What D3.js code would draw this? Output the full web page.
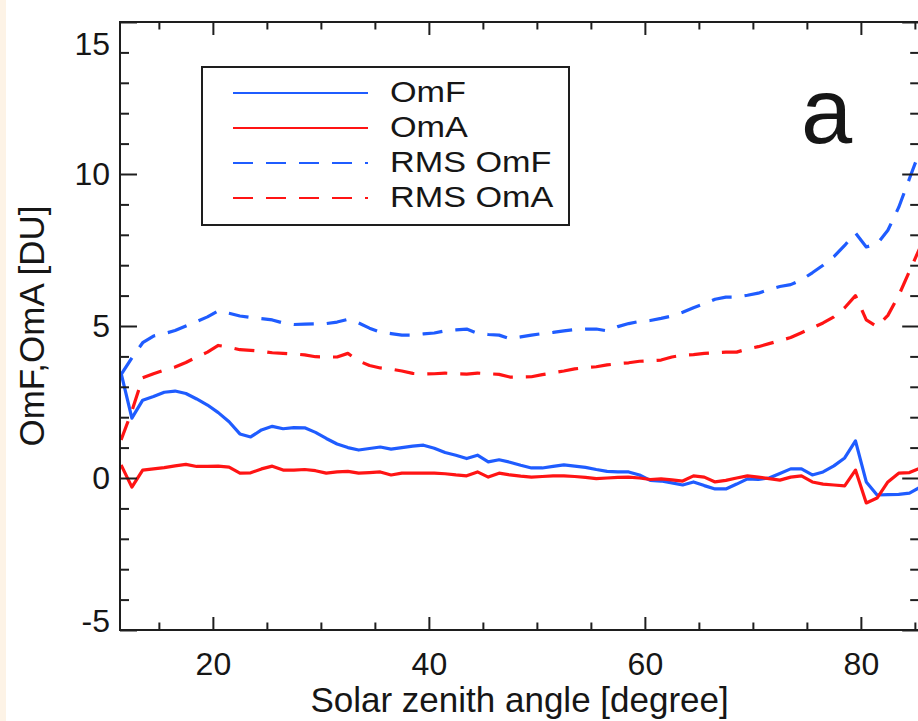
<!DOCTYPE html>
<html>
<head>
<meta charset="utf-8">
<script src="https://cdn.jsdelivr.net/npm/d3@7/dist/d3.min.js"></script>
<style>
  html, body { margin: 0; padding: 0; background: #ffffff; }
  svg { display: block; }
  text { font-family: "Liberation Sans", Arial, Helvetica, sans-serif; fill: #161616; }
</style>
</head>
<body>
<svg id="chart" width="918" height="721"></svg>
<script>
// Solar zenith angle grid [degree]
const sza = [
  11.5, 12.5, 13.5, 14.5, 15.5, 16.5, 17.5, 18.5, 19.5, 20.5,
  21.5, 22.5, 23.5, 24.5, 25.5, 26.5, 27.5, 28.5, 29.5, 30.5,
  31.5, 32.5, 33.5, 34.5, 35.5, 36.5, 37.5, 38.5, 39.5, 40.5,
  41.5, 42.5, 43.5, 44.5, 45.5, 46.5, 47.5, 48.5, 49.5, 50.5,
  51.5, 52.5, 53.5, 54.5, 55.5, 56.5, 57.5, 58.5, 59.5, 60.5,
  61.5, 62.5, 63.5, 64.5, 65.5, 66.5, 67.5, 68.5, 69.5, 70.5,
  71.5, 72.5, 73.5, 74.5, 75.5, 76.5, 77.5, 78.5, 79.5, 80.5,
  81.5, 82.5, 83.5, 84.5, 85.5
];

// Mean observation minus forecast [DU]
const omf = [
  3.45, 1.97, 2.56, 2.68, 2.82, 2.86, 2.78, 2.60, 2.40, 2.15,
  1.85, 1.45, 1.35, 1.58, 1.70, 1.62, 1.66, 1.65, 1.50, 1.30,
  1.12, 1.00, 0.92, 0.97, 1.02, 0.95, 1.00, 1.05, 1.08, 0.98,
  0.84, 0.75, 0.64, 0.75, 0.53, 0.60, 0.52, 0.42, 0.33, 0.33,
  0.38, 0.43, 0.39, 0.35, 0.28, 0.22, 0.20, 0.20, 0.10, -0.08,
  -0.10, -0.16, -0.23, -0.13, -0.25, -0.36, -0.36, -0.20, -0.03, -0.05,
  0.00, 0.15, 0.30, 0.30, 0.10, 0.20, 0.40, 0.66, 1.22, -0.13,
  -0.56, -0.55, -0.54, -0.50, -0.30
];

// Mean observation minus analysis [DU]
const oma = [
  0.43, -0.30, 0.26, 0.30, 0.34, 0.40, 0.45, 0.38, 0.38, 0.39,
  0.36, 0.16, 0.17, 0.30, 0.39, 0.26, 0.26, 0.28, 0.24, 0.16,
  0.20, 0.22, 0.16, 0.18, 0.20, 0.10, 0.16, 0.16, 0.16, 0.16,
  0.14, 0.10, 0.07, 0.20, 0.03, 0.16, 0.10, 0.06, 0.03, 0.05,
  0.07, 0.07, 0.05, 0.02, -0.02, 0.00, 0.02, 0.03, 0.00, -0.05,
  -0.03, -0.06, -0.10, 0.07, 0.03, -0.13, -0.08, 0.00, 0.07, 0.03,
  -0.02, -0.07, 0.03, 0.07, -0.13, -0.20, -0.23, -0.26, 0.26, -0.82,
  -0.66, -0.13, 0.16, 0.18, 0.33
];

// RMS of observation minus forecast [DU]
const rmsOmf = [
  3.40, 3.95, 4.45, 4.67, 4.75, 4.85, 5.00, 5.15, 5.30, 5.50,
  5.42, 5.33, 5.28, 5.24, 5.20, 5.10, 5.05, 5.06, 5.07, 5.08,
  5.13, 5.22, 5.10, 4.93, 4.80, 4.75, 4.70, 4.70, 4.74, 4.77,
  4.84, 4.87, 4.90, 4.76, 4.72, 4.70, 4.58, 4.64, 4.70, 4.75,
  4.79, 4.84, 4.88, 4.90, 4.90, 4.84, 4.98, 5.08, 5.15, 5.18,
  5.25, 5.33, 5.45, 5.60, 5.73, 5.88, 5.95, 5.95, 6.01, 6.08,
  6.20, 6.30, 6.36, 6.52, 6.75, 7.00, 7.28, 7.65, 8.06, 7.60,
  7.70, 8.15, 8.90, 9.85, 10.80
];

// RMS of observation minus analysis [DU]
const rmsOma = [
  1.25, 2.20, 3.30, 3.43, 3.55, 3.65, 3.80, 3.98, 4.14, 4.36,
  4.30, 4.22, 4.20, 4.17, 4.12, 4.10, 4.08, 4.05, 3.99, 3.98,
  3.98, 4.10, 3.85, 3.70, 3.62, 3.58, 3.52, 3.44, 3.42, 3.43,
  3.45, 3.43, 3.42, 3.45, 3.43, 3.41, 3.32, 3.32, 3.33, 3.40,
  3.46, 3.52, 3.59, 3.63, 3.66, 3.72, 3.76, 3.79, 3.84, 3.86,
  3.88, 3.98, 4.04, 4.06, 4.10, 4.12, 4.14, 4.14, 4.25, 4.32,
  4.42, 4.52, 4.62, 4.78, 4.94, 5.10, 5.30, 5.60, 6.00, 5.20,
  4.98, 5.35, 6.00, 6.80, 7.60
];

const xMajorTicks = [20, 40, 60, 80];
const xMinorTicks = [15, 25, 30, 35, 45, 50, 55, 65, 70, 75, 85];
const yMajorTicks = [-5, 0, 5, 10, 15];
const yMinorTicks = [-4, -3, -2, -1, 1, 2, 3, 4, 6, 7, 8, 9, 11, 12, 13, 14];

const seriesNames = ["OmF", "OmA", "RMS OmF", "RMS OmA"];
const seriesValues = [omf, oma, rmsOmf, rmsOma];

const BLUE = "#1f5cff";
const RED = "#ff1414";
const AXIS = "#1e1e1e";

const styles = [
  { color: BLUE, dash: null },
  { color: RED, dash: null },
  { color: BLUE, dash: "20,13" },
  { color: RED, dash: "20,13" }
];

const svg = d3.select("#chart");

// page background with the cream strip on the left edge
svg.append("rect").attr("x", 0).attr("y", 0).attr("width", 918).attr("height", 721).attr("fill", "#ffffff");
svg.append("rect").attr("x", 0).attr("y", 0).attr("width", 6).attr("height", 721).attr("fill", "#fdf3e6");

const plot = { left: 120, right: 919.2, top: 22, bottom: 630 };

const x = d3.scaleLinear().domain([11.4, 85.4]).range([plot.left, plot.right]);
const y = d3.scaleLinear().domain([-5, 15]).range([plot.bottom, plot.top]);

svg.append("defs").append("clipPath").attr("id", "plotClip")
  .append("rect")
  .attr("x", plot.left).attr("y", plot.top)
  .attr("width", plot.right - plot.left).attr("height", plot.bottom - plot.top);

// data lines
const line = d3.line().x(d => x(d[0])).y(d => y(d[1]));
const lines = svg.append("g").attr("clip-path", "url(#plotClip)");
seriesValues.forEach((vals, i) => {
  const pts = sza.map((s, k) => [s, vals[k]]);
  const p = lines.append("path")
    .attr("d", line(pts))
    .attr("fill", "none")
    .attr("stroke", styles[i].color)
    .attr("stroke-width", 3.2)
    .attr("stroke-linejoin", "round");
  if (styles[i].dash) p.attr("stroke-dasharray", styles[i].dash);
});

// axes: ticks point inward on all four sides
function styleAxis(g) {
  g.select(".domain").remove();
  g.selectAll(".tick line").attr("stroke", AXIS).attr("stroke-width", 2);
  g.selectAll(".tick text")
    .style("font-family", '"Liberation Sans", Arial, Helvetica, sans-serif')
    .attr("fill", "#161616");
}

// plain hyphen for negative labels
const fmt = d => String(d);

svg.append("g").attr("transform", `translate(0,${plot.bottom})`)
  .call(d3.axisBottom(x).tickValues(xMajorTicks).tickFormat(fmt).tickSize(-13).tickPadding(22))
  .call(styleAxis)
  .selectAll(".tick text").style("font-size", "32px");

svg.append("g").attr("transform", `translate(0,${plot.bottom})`)
  .call(d3.axisBottom(x).tickValues(xMinorTicks).tickFormat("").tickSize(-7.5))
  .call(styleAxis);

svg.append("g").attr("transform", `translate(0,${plot.top})`)
  .call(d3.axisTop(x).tickValues(xMajorTicks).tickFormat("").tickSize(-13))
  .call(styleAxis);

svg.append("g").attr("transform", `translate(0,${plot.top})`)
  .call(d3.axisTop(x).tickValues(xMinorTicks).tickFormat("").tickSize(-7.5))
  .call(styleAxis);

const yAxisG = svg.append("g").attr("transform", `translate(${plot.left},0)`)
  .call(d3.axisLeft(y).tickValues(yMajorTicks).tickFormat(fmt).tickSize(-17).tickPadding(10))
  .call(styleAxis);
yAxisG.selectAll(".tick text")
  .style("font-size", "32px")
  .attr("dy", d => d === 15 ? "1.0em" : d === -5 ? "0.05em" : "0.34em");

svg.append("g").attr("transform", `translate(${plot.left},0)`)
  .call(d3.axisLeft(y).tickValues(yMinorTicks).tickFormat("").tickSize(-9))
  .call(styleAxis);

svg.append("g").attr("transform", `translate(${plot.right},0)`)
  .call(d3.axisRight(y).tickValues(yMajorTicks).tickFormat("").tickSize(-17))
  .call(styleAxis);

svg.append("g").attr("transform", `translate(${plot.right},0)`)
  .call(d3.axisRight(y).tickValues(yMinorTicks).tickFormat("").tickSize(-9))
  .call(styleAxis);

// plot frame
svg.append("rect")
  .attr("x", plot.left).attr("y", plot.top)
  .attr("width", plot.right - plot.left).attr("height", plot.bottom - plot.top)
  .attr("fill", "none").attr("stroke", AXIS).attr("stroke-width", 2);

// axis titles
svg.append("text")
  .attr("x", (plot.left + plot.right) / 2).attr("y", 712)
  .attr("text-anchor", "middle")
  .style("font-size", "35px")
  .text("Solar zenith angle [degree]");

svg.append("text")
  .attr("transform", `translate(44,${(plot.top + plot.bottom) / 2}) rotate(-90)`)
  .attr("text-anchor", "middle")
  .style("font-size", "35px")
  .text("OmF,OmA [DU]");

// panel letter
svg.append("text")
  .attr("x", 801).attr("y", 143)
  .style("font-size", "92px")
  .text("a");

// legend
const legend = svg.append("g");
legend.append("rect")
  .attr("x", 202).attr("y", 67).attr("width", 367).attr("height", 158)
  .attr("fill", "#ffffff").attr("stroke", AXIS).attr("stroke-width", 2);

seriesNames.forEach((name, i) => {
  const ly = 93 + i * 35;
  const l = legend.append("line")
    .attr("x1", 233).attr("x2", 368)
    .attr("y1", ly).attr("y2", ly)
    .attr("stroke", styles[i].color)
    .attr("stroke-width", 2);
  if (styles[i].dash) l.attr("stroke-dasharray", "20,13");
  legend.append("text")
    .attr("transform", `translate(390,${102 + i * 35}) scale(1.14,1)`)
    .style("font-size", "30px")
    .text(name);
});
</script>
</body>
</html>
